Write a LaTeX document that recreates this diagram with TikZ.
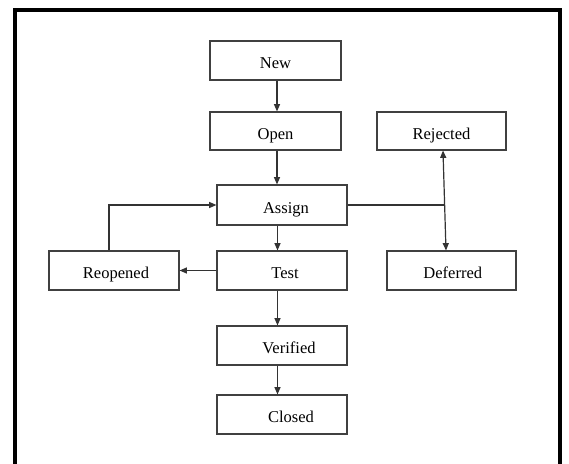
\documentclass[tikz,border=0pt]{standalone}
\usepackage{fontspec}
\setmainfont{Liberation Serif}
\usetikzlibrary{arrows.meta,calc}
\begin{document}
\begin{tikzpicture}[x=0.75pt,y=-0.75pt,
  box/.style={draw=black!75,line width=0.8pt,rectangle,minimum width=97.5pt,minimum height=29.25pt,inner sep=0pt,text height=12.5pt,text depth=0pt,font=\fontsize{12.4pt}{14pt}\selectfont},
  arr/.style={draw=black!80,line width=0.9pt,-{Triangle[length=5.5pt,width=4.5pt]}},
  arrb/.style={draw=black!80,line width=0.9pt,{Triangle[length=5.5pt,width=4.5pt]}-{Triangle[length=5.5pt,width=4.5pt]}},
  ln/.style={draw=black!80,line width=0.9pt}]
\useasboundingbox (0,0) rectangle (569,464);
\draw[line width=2.4pt,black] (15,466) -- (15,10) -- (560,10) -- (560,466);
\node[box,minimum width=98.25pt] (new) at (275.5,60.5) {New};
\node[box,minimum width=98.25pt,minimum height=28.5pt] (open) at (275.5,131) {Open};
\node[box,minimum width=96.75pt,minimum height=28.5pt] (rejected) at (441.5,131) {Rejected};
\node[box,minimum height=30pt] (assign) at (282,205) {\hspace*{6pt}Assign};
\node[box] (reopened) at (114,270.5) {\hspace*{3pt}Reopened};
\node[box] (test) at (282,270.5) {\hspace*{4.5pt}Test};
\node[box,minimum width=96.75pt] (deferred) at (451.5,270.5) {\hspace*{2pt}Deferred};
\node[box] (verified) at (282,345.5) {\hspace*{10.5pt}Verified};
\node[box] (closed) at (282,414.5) {\hspace*{13.5pt}Closed};
\coordinate (j) at (443.5,205);
\draw[arr] ($(new.south)+(1.5,0)$) -- ($(open.north)+(1.5,0)$);
\draw[arr] ($(open.south)+(1.5,0)$) -- ($(assign.north)+(-5,0)$);
\draw[arr] ($(assign.south)+(-4.5,0)$) -- ($(test.north)+(-4.5,0)$);
\draw[arr] ($(test.south)+(-4.5,0)$) -- ($(verified.north)+(-4.5,0)$);
\draw[arr] ($(verified.south)+(-4.5,0)$) -- ($(closed.north)+(-4.5,0)$);
\draw[arr] (test.west) -- (reopened.east);
\draw[arr] ($(reopened.north)+(-5,0)$) |- (assign.west);
\draw[ln] (assign.east) -- (j);
\draw[arrb] ($(rejected.south)+(1.5,0)$) -- ($(deferred.north)+(-5.5,0)$);
\end{tikzpicture}
\end{document}
